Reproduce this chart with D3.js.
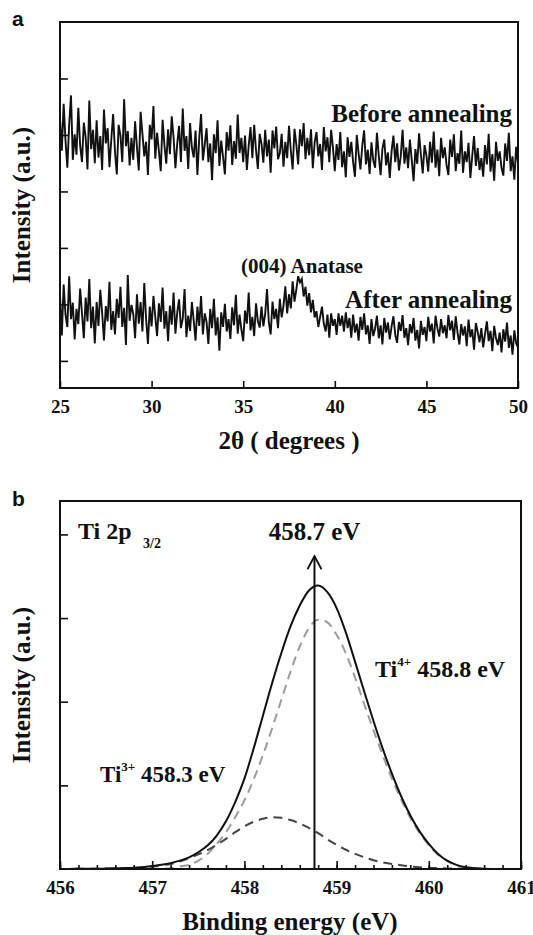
<!DOCTYPE html>
<html>
<head>
<meta charset="utf-8">
<script src="https://cdn.jsdelivr.net/npm/d3@7"></script>
<style>
body { margin: 0; background: #fff; }
svg text { font-family: "Liberation Serif", "Times New Roman", serif; font-weight: bold; fill: #111; }
</style>
</head>
<body>
<script>
// ---- panel a : XRD, one reading every 0.1 degree from 25 to 50
var angleStart = 25, angleStep = 0.1;
var beforeCounts = [
  430, 372, 455, 390, 342, 418, 470, 356, 401, 365,
  448, 381, 352, 422, 396, 339, 461, 375, 409, 350,
  426, 360, 398, 338, 445, 385, 412, 343, 392, 437,
  371, 330, 418, 399, 352, 463, 380, 407, 346, 395,
  356, 424, 378, 337, 441, 402, 362, 388, 329, 418,
  392, 451, 358, 404, 371, 336, 427, 382, 349, 410,
  366, 433, 395, 341, 385, 416, 352, 447, 372, 398,
  340, 421, 377, 360, 408, 329, 394, 437, 355, 383,
  412, 352, 385, 320, 401, 368, 426, 345, 390, 361,
  330, 405, 372, 417, 347, 389, 358, 436, 368, 395,
  352, 399, 338, 381, 414, 359, 418, 373, 340, 402,
  384, 351, 409, 362, 392, 333, 408, 376, 415, 357,
  368, 402, 344, 388, 359, 416, 372, 339, 411, 383,
  348, 410, 380, 421, 357, 395, 364, 410, 341, 387,
  405, 362, 384, 338, 414, 371, 396, 352, 409, 377,
  336, 384, 356, 405, 343, 371, 325, 396, 361, 388,
  352, 326, 400, 367, 339, 381, 408, 348, 374, 331,
  387, 355, 342, 404, 363, 329, 376, 392, 346, 369,
  324, 371, 399, 352, 385, 337, 362, 409, 349, 378,
  341, 392, 356, 318, 375, 349, 403, 365, 332, 382,
  364, 335, 388, 351, 406, 342, 374, 327, 395, 359,
  378, 347, 329, 392, 361, 401, 336, 368, 349, 408,
  333, 371, 352, 386, 324, 362, 398, 345, 377, 338,
  359, 326, 382, 348, 402, 335, 366, 319, 388, 354,
  371, 342, 328, 385, 354, 404, 336, 362, 321, 379,
  350
];
var afterCounts = [
  118, 45, 135, 82, 60, 150, 74, 103, 38, 92,
  65, 128, 84, 40, 112, 70, 145, 58, 96, 31,
  104, 62, 126, 85, 36, 97, 70, 140, 55, 88,
  47, 110, 76, 131, 60, 94, 28, 152, 71, 99,
  83, 40, 118, 66, 104, 52, 138, 74, 30, 96,
  61, 115, 78, 44, 102, 69, 130, 57, 88, 35,
  98, 64, 121, 48, 86, 109, 58, 75, 127, 42,
  80, 53, 104, 71, 36, 96, 62, 115, 47, 84,
  69, 30, 92, 58, 110, 45, 77, 18, 86, 60,
  101, 52, 74, 39, 95, 63, 117, 48, 82, 56,
  35, 89, 66, 121, 54, 78, 44, 102, 70, 59,
  96, 61, 83, 127, 68, 47, 105, 74, 92, 58,
  110, 77, 98, 132, 84, 118, 93, 141, 105, 126,
  150, 139, 145, 114, 131, 98, 120, 86, 108, 77,
  88, 60, 78, 96, 66, 52, 82, 41, 84, 62,
  74, 46, 84, 62, 80, 52, 86, 58, 76, 41,
  82, 50, 66, 36, 78, 55, 84, 47, 63, 30,
  74, 44, 57, 80, 40, 63, 29, 76, 50, 68,
  38, 61, 79, 46, 32, 69, 53, 81, 41, 58,
  28, 65, 49, 76, 36, 55, 22, 71, 46, 60,
  35, 78, 52, 66, 31, 80, 58, 43, 74, 49,
  63, 40, 81, 54, 71, 37, 79, 50, 29, 65,
  45, 61, 26, 73, 42, 56, 20, 67, 51, 33,
  58, 24, 48, 70, 35, 53, 17, 62, 40, 28,
  50, 15, 56, 34, 68, 23, 45, 11, 54, 31,
  24
];
var angleTicks = [25, 30, 35, 40, 45, 50];
var countTicks = [0, 100, 200, 300, 400, 500];

// ---- panel b : XPS Ti 2p3/2, one reading every 0.1 eV from 456 to 461
var energyStart = 456, energyStep = 0.1;
var fitTotal = [
  0, 0.001, 0.002, 0.003, 0.004, 0.005, 0.008, 0.011, 0.015, 0.022,
  0.035, 0.05, 0.07, 0.10, 0.14, 0.20, 0.28, 0.40, 0.57, 0.80,
  1.08, 1.44, 1.83, 2.22, 2.58, 2.90, 3.15, 3.33, 3.39, 3.31,
  3.12, 2.83, 2.48, 2.12, 1.77, 1.44, 1.14, 0.87, 0.64, 0.45,
  0.30, 0.18, 0.10, 0.05, 0.02, 0.01, 0.004, 0.001, 0, 0,
  0
];
var fitTi4 = [
  0, 0, 0, 0, 0, 0, 0, 0, 0, 0,
  0.003, 0.005, 0.01, 0.03, 0.05, 0.10, 0.18, 0.30, 0.44, 0.62,
  0.82, 1.07, 1.36, 1.68, 2.02, 2.36, 2.66, 2.88, 2.98, 2.95,
  2.80, 2.58, 2.29, 1.97, 1.66, 1.36, 1.08, 0.83, 0.61, 0.43,
  0.285, 0.17, 0.095, 0.045, 0.02, 0.01, 0.004, 0, 0, 0,
  0
];
var fitTi3 = [
  0, 0.001, 0.002, 0.003, 0.004, 0.005, 0.007, 0.009, 0.012, 0.02,
  0.03, 0.045, 0.06, 0.09, 0.13, 0.175, 0.225, 0.29, 0.36, 0.44,
  0.51, 0.565, 0.60, 0.62, 0.612, 0.585, 0.545, 0.49, 0.43, 0.355,
  0.29, 0.23, 0.18, 0.14, 0.105, 0.08, 0.06, 0.045, 0.03, 0.02,
  0.015, 0.01, 0.007, 0.005, 0.003, 0.002, 0.001, 0, 0, 0,
  0
];
var energyTicks = [456, 457, 458, 459, 460, 461];
var xpsTicks = [1, 2, 3, 4];
var peakEnergy = 458.76;
var arrowTop = 3.74;

var width = 533, height = 935;
var svg = d3.select("body").append("svg")
    .attr("width", width)
    .attr("height", height);

function styleAxis(g, size) {
    g.attr("font-family", null);
    g.select(".domain").remove();
    g.selectAll(".tick line").attr("stroke", "#111").attr("stroke-width", 1.6);
    g.selectAll("text").style("font-size", size + "px").attr("fill", "#111");
}

// ================= panel a =================
var xA = d3.scaleLinear().domain([25, 50]).range([60, 518]);
var yA = d3.scaleLinear().domain([-48, 600]).range([388, 22]);

var lineA = d3.line()
    .x(function(d, i) { return xA(angleStart + i * angleStep); })
    .y(function(d) { return yA(d); });

[beforeCounts, afterCounts].forEach(function(series) {
    svg.append("path")
        .attr("d", lineA(series))
        .attr("fill", "none")
        .attr("stroke", "#111")
        .attr("stroke-width", 1.9)
        .attr("stroke-linejoin", "miter");
});

svg.append("g")
    .attr("transform", "translate(0,388)")
    .call(d3.axisBottom(xA).tickValues(angleTicks).tickSizeInner(-7).tickSizeOuter(0).tickPadding(12))
    .call(styleAxis, 19);

svg.append("g")
    .attr("transform", "translate(60,0)")
    .call(d3.axisLeft(yA).tickValues(countTicks).tickSizeInner(-8).tickSizeOuter(0).tickFormat(""))
    .call(styleAxis, 19);

svg.append("rect")
    .attr("x", 60).attr("y", 22)
    .attr("width", 458).attr("height", 366)
    .attr("fill", "none").attr("stroke", "#111").attr("stroke-width", 2);

svg.append("text").attr("x", 512).attr("y", 122).attr("text-anchor", "end")
    .style("font-size", "25px").text("Before annealing");
svg.append("text").attr("x", 512).attr("y", 308).attr("text-anchor", "end")
    .style("font-size", "25px").text("After annealing");
svg.append("text").attr("x", 241).attr("y", 273)
    .style("font-size", "21px").text("(004) Anatase");

svg.append("text").attr("x", 289).attr("y", 449).attr("text-anchor", "middle")
    .style("font-size", "25px").text("2\u03b8 ( degrees )");
svg.append("text").attr("transform", "translate(30,205) rotate(-90)").attr("text-anchor", "middle")
    .style("font-size", "25px").text("Intensity (a.u.)");
svg.append("text").attr("x", 12).attr("y", 26)
    .style("font-family", "'Liberation Sans', Arial, sans-serif").style("font-size", "21px").text("a");

// ================= panel b =================
var xB = d3.scaleLinear().domain([456, 461]).range([60, 521]);
var yB = d3.scaleLinear().domain([0, 4.4]).range([869, 501]);

var lineB = d3.line()
    .x(function(d, i) { return xB(energyStart + i * energyStep); })
    .y(function(d) { return yB(d); })
    .curve(d3.curveMonotoneX);

svg.append("path").attr("d", lineB(fitTi4))
    .attr("fill", "none").attr("stroke", "#9c9c9c").attr("stroke-width", 2)
    .attr("stroke-dasharray", "9,6");
svg.append("path").attr("d", lineB(fitTi3))
    .attr("fill", "none").attr("stroke", "#454545").attr("stroke-width", 2)
    .attr("stroke-dasharray", "9,6");
svg.append("path").attr("d", lineB(fitTotal))
    .attr("fill", "none").attr("stroke", "#111").attr("stroke-width", 2);

svg.append("g")
    .attr("transform", "translate(0,869)")
    .call(d3.axisBottom(xB).tickValues(d3.range(456, 461.01, 0.2)).tickSizeInner(-4).tickSizeOuter(0).tickFormat(""))
    .call(styleAxis, 19);
svg.append("g")
    .attr("transform", "translate(0,869)")
    .call(d3.axisBottom(xB).tickValues(energyTicks).tickSizeInner(-8).tickSizeOuter(0).tickPadding(12).tickFormat(d3.format("d")))
    .call(styleAxis, 19);
svg.append("g")
    .attr("transform", "translate(60,0)")
    .call(d3.axisLeft(yB).tickValues(xpsTicks).tickSizeInner(-8).tickSizeOuter(0).tickFormat(""))
    .call(styleAxis, 19);

svg.append("rect")
    .attr("x", 60).attr("y", 501)
    .attr("width", 461).attr("height", 368)
    .attr("fill", "none").attr("stroke", "#111").attr("stroke-width", 2);

// arrow at the fitted maximum
var ax = xB(peakEnergy), ay = yB(arrowTop);
svg.append("line")
    .attr("x1", ax).attr("x2", ax).attr("y1", yB(0)).attr("y2", ay)
    .attr("stroke", "#111").attr("stroke-width", 2);
svg.append("polyline")
    .attr("points", [[ax - 7, ay + 13], [ax, ay], [ax + 7, ay + 13]].join(" "))
    .attr("fill", "none").attr("stroke", "#111").attr("stroke-width", 1.8);

svg.append("text").attr("x", ax).attr("y", 540).attr("text-anchor", "middle")
    .style("font-size", "25px").text("458.7 eV");

var ti2p = svg.append("text").attr("x", 78).attr("y", 539).style("font-size", "24px");
ti2p.append("tspan").text("Ti 2p");
ti2p.append("tspan").attr("x", 143).attr("dy", 9).style("font-size", "14px").text("3/2");

var ti4 = svg.append("text").attr("x", 375).attr("y", 677).style("font-size", "24px");
ti4.append("tspan").text("Ti");
ti4.append("tspan").attr("dy", -11).style("font-size", "13px").text("4+");
ti4.append("tspan").attr("dy", 11).text(" 458.8 eV");

var ti3 = svg.append("text").attr("x", 100).attr("y", 782).style("font-size", "23px");
ti3.append("tspan").text("Ti");
ti3.append("tspan").attr("dy", -11).style("font-size", "13px").text("3+");
ti3.append("tspan").attr("dy", 11).text(" 458.3 eV");

svg.append("text").attr("x", 290).attr("y", 930).attr("text-anchor", "middle")
    .style("font-size", "25px").text("Binding energy (eV)");
svg.append("text").attr("transform", "translate(30,685) rotate(-90)").attr("text-anchor", "middle")
    .style("font-size", "25px").text("Intensity (a.u.)");
svg.append("text").attr("x", 12).attr("y", 506)
    .style("font-family", "'Liberation Sans', Arial, sans-serif").style("font-size", "21px").text("b");
</script>
</body>
</html>
